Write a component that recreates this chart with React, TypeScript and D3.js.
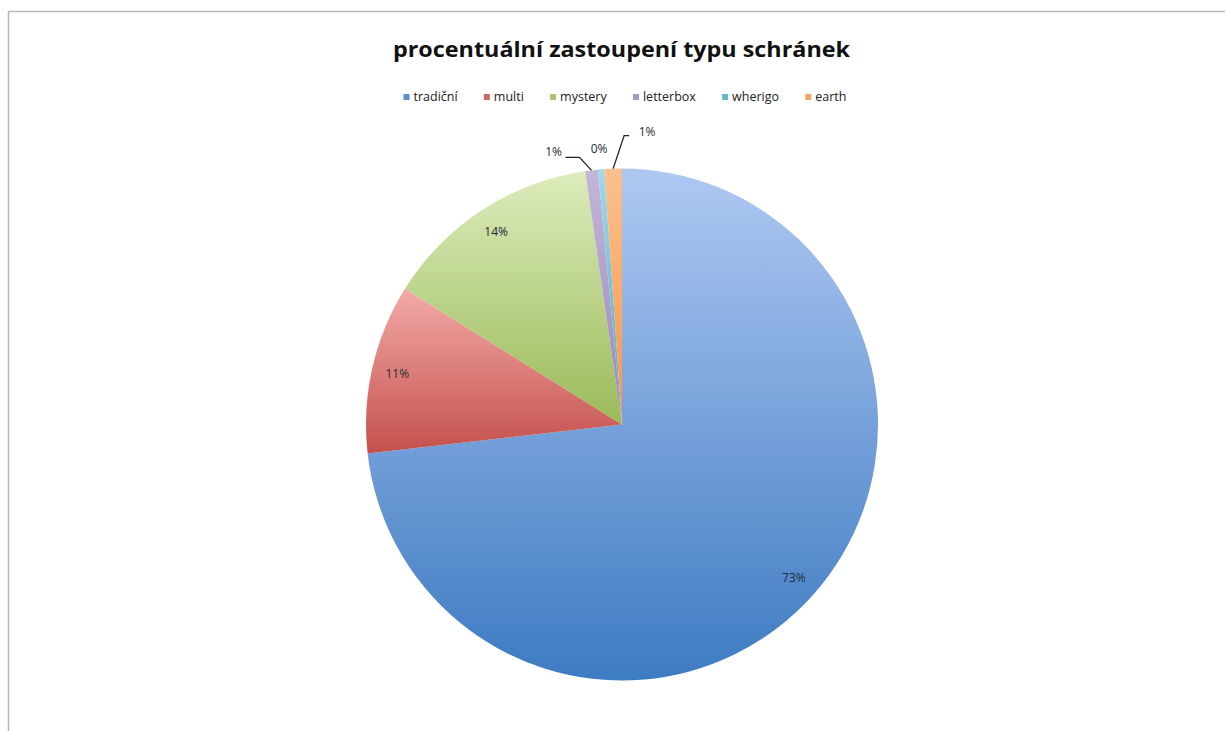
import React, { useEffect, useRef } from "react";
import * as d3 from "d3";

const TITLE = "procentuální zastoupení typu schránek";
const categories = ["tradiční", "multi", "mystery", "letterbox", "wherigo", "earth"];
const values = [73.2, 10.7, 13.8, 0.8, 0.4, 1.1];
const labels = ["73%", "11%", "14%", "1%", "0%", "1%"];
const colorsTop = ["#afc8f2", "#f3aaa8", "#dcecbc", "#c4b6da", "#a3d8ea", "#fbc08e"];
const colorsBottom = ["#3d7bc2", "#c4504c", "#9aba58", "#9b85bb", "#4aaac4", "#f69546"];
// outside label placement for small slices: [elbow dx, elbow dy, label dx, label dy] relative to slice outer point
const outsideLabels: Record<number, number[]> = {
  3: [-12, -13, -38, -18],
  4: [0, 0, -2, -20],
  5: [11, -33, 34, -37],
};

export default function App() {
  const ref = useRef<SVGSVGElement>(null);

  useEffect(() => {
    const svg = d3.select(ref.current);
    svg.selectAll("*").remove();
    const W = 1225, H = 731;
    const cx = 622, cy = 424.5, R = 256;
    const font = "'Open Sans', Lato, sans-serif";

    svg.append("rect").attr("x", 0).attr("y", 0).attr("width", W).attr("height", H).attr("fill", "#fff");
    svg.append("rect").attr("x", 8.5).attr("y", 11.5).attr("width", W + 10).attr("height", H + 10)
      .attr("fill", "none").attr("stroke", "#b8b8b8").attr("stroke-width", 1.5);

    const defs = svg.append("defs");
    categories.forEach((c, i) => {
      const g = defs.append("linearGradient").attr("id", "g" + i)
        .attr("x1", 0).attr("y1", 0).attr("x2", 0).attr("y2", 1);
      g.append("stop").attr("offset", "0%").attr("stop-color", colorsTop[i]);
      g.append("stop").attr("offset", "100%").attr("stop-color", colorsBottom[i]);
    });

    // title
    svg.append("text").attr("x", cx - 0.5).attr("y", 57).attr("text-anchor", "middle")
      .attr("font-family", font).attr("font-weight", "bold").attr("font-size", 22)
      .attr("textLength", 457).attr("lengthAdjust", "spacingAndGlyphs")
      .attr("fill", "#111").text(TITLE);

    // legend
    const leg = svg.append("g");
    let x = 0;
    const items: { g: any; w: number }[] = [];
    categories.forEach((c, i) => {
      const g = leg.append("g");
      g.append("rect").attr("x", 0).attr("y", -7).attr("width", 6).attr("height", 6).attr("fill", colorsBottom[i]).attr("opacity", 0.85);
      const t = g.append("text").attr("x", 10).attr("y", 0).attr("font-family", font).attr("font-size", 12.5)
        .attr("fill", "#222").text(c);
      const w = 10 + (t.node() as SVGTextElement).getComputedTextLength();
      items.push({ g, w });
    });
    const total = items.reduce((s, it) => s + it.w, 0);
    const gap = (443 - total) / (items.length - 1);
    x = cx + 3 - 443 / 2;
    items.forEach((it) => {
      it.g.attr("transform", `translate(${x},101)`);
      x += it.w + gap;
    });

    // pie
    const pie = d3.pie<number>().sort(null).value((d) => d);
    const arcs = pie(values);
    const arc = d3.arc<d3.PieArcDatum<number>>().innerRadius(0).outerRadius(R);
    const pg = svg.append("g").attr("transform", `translate(${cx},${cy})`);
    pg.selectAll("path").data(arcs).enter().append("path")
      .attr("d", arc as any).attr("fill", (d, i) => `url(#g${i})`);

    arcs.forEach((a, i) => {
      const mid = (a.startAngle + a.endAngle) / 2;
      const ol = outsideLabels[i];
      if (!ol) {
        const r = R * 0.9;
        pg.append("text").attr("x", Math.sin(mid) * r).attr("y", -Math.cos(mid) * r + 4)
          .attr("text-anchor", "middle").attr("font-family", font).attr("font-size", 12)
          .attr("fill", "#1f2a33").text(labels[i]);
      } else {
        const px = Math.sin(mid) * R, py = -Math.cos(mid) * R;
        if (ol[0] !== 0 || ol[1] !== 0) {
          const ex = px + ol[0], ey = py + ol[1];
          const hx = ex + (ol[2] < 0 ? -14 : 5);
          pg.append("path").attr("d", `M${px},${py}L${ex},${ey}L${hx},${ey}`)
            .attr("fill", "none").attr("stroke", "#222").attr("stroke-width", 1.3);
        }
        pg.append("text").attr("x", px + ol[2]).attr("y", py + ol[3] + 4)
          .attr("text-anchor", "middle").attr("font-family", font).attr("font-size", 12)
          .attr("fill", "#1f2a33").text(labels[i]);
      }
    });
  }, []);

  return (
    <svg ref={ref} width={1225} height={731}
      style={{ position: "absolute", left: 0, top: 0, display: "block" }} />
  );
}
